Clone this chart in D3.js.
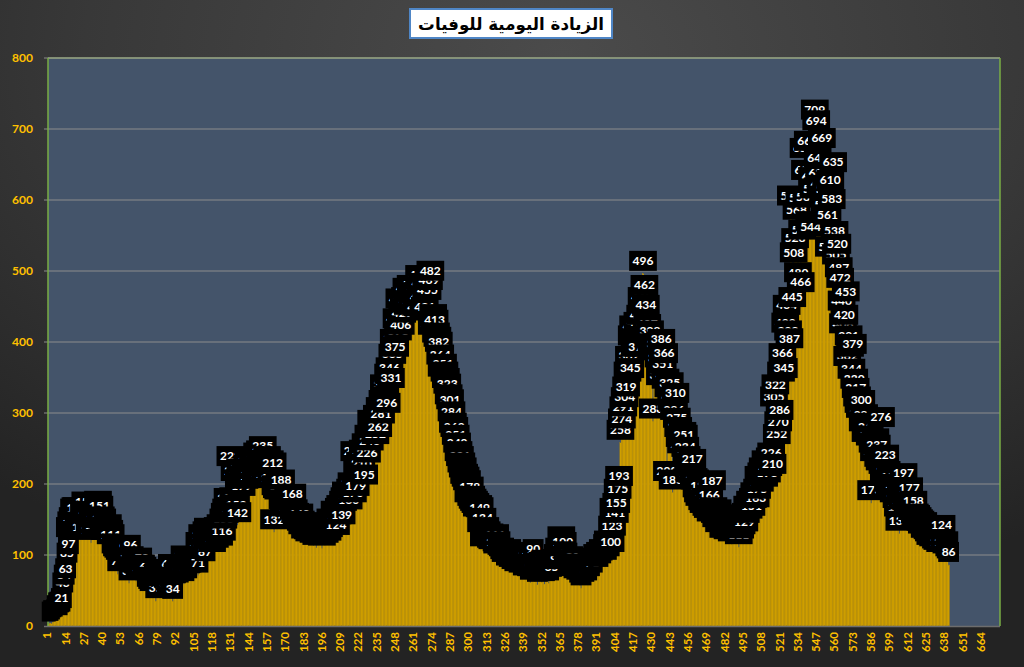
<!DOCTYPE html>
<html><head><meta charset="utf-8">
<script src="https://cdn.jsdelivr.net/npm/d3@7"></script>
<style>html,body{margin:0;padding:0;background:#2a2a2a;overflow:hidden}</style>
</head><body>
<svg id="chart" width="1024" height="667"></svg>
<script>
// ---------------- DATA ----------------
const titleText = "الزيادة اليومية للوفيات";
const yTicks = [0, 100, 200, 300, 400, 500, 600, 700, 800];
const xTickLabels = [1, 14, 27, 40, 53, 66, 79, 92, 105, 118, 131, 144, 157, 170, 183, 196, 209, 222, 235, 248,
  261, 274, 287, 300, 313, 326, 339, 352, 365, 378, 391, 404, 417, 430, 443, 456, 469, 482, 495, 508, 521, 534,
  547, 560, 573, 586, 599, 612, 625, 638, 651, 664];
const categoryCount = 676;   // axis categories 1..676 (data fills the first 640)
const dailyDeaths = [
  2, 4, 3, 5, 8, 9, 11, 15, 16, 21,
  43, 54, 63, 85, 97, 121, 129, 135, 147, 149,
  149, 123, 129, 127, 122, 143, 157, 144, 139, 123,
  117, 141, 138, 124, 134, 158, 151, 136, 133, 121,
  117, 122, 125, 117, 111, 98, 94, 92, 89, 73,
  87, 91, 88, 94, 90, 93, 76, 60, 96, 71,
  80, 71, 63, 74, 64, 74, 78, 68, 68, 65,
  51, 48, 45, 51, 50, 55, 35, 57, 52, 56,
  62, 60, 50, 58, 41, 69, 51, 48, 34, 57,
  56, 63, 57, 64, 81, 70, 59, 72, 63, 75,
  70, 71, 74, 78, 78, 75, 71, 100, 93, 111,
  90, 87, 115, 120, 109, 115, 100, 119, 106, 119,
  121, 109, 125, 116, 133, 141, 147, 162, 147, 221,
  148, 163, 200, 153, 142, 188, 203, 179, 194, 189,
  200, 195, 215, 194, 203, 216, 212, 199, 226, 195,
  229, 198, 235, 212, 196, 221, 208, 215, 190, 212,
  132, 180, 176, 174, 179, 188, 160, 154, 158, 150,
  161, 150, 162, 168, 146, 141, 138, 133, 140, 130,
  125, 127, 119, 126, 118, 115, 121, 116, 113, 117,
  110, 114, 122, 118, 109, 117, 113, 128, 116, 121,
  133, 126, 131, 144, 124, 139, 148, 152, 139, 158,
  163, 171, 166, 160, 175, 184, 170, 228, 179, 206,
  208, 213, 210, 230, 195, 239, 226, 251, 243, 272,
  260, 265, 252, 279, 262, 290, 281, 300, 322, 305,
  296, 337, 346, 331, 365, 386, 375, 415, 398, 443,
  406, 423, 437, 445, 458, 434, 440, 462, 449, 438,
  452, 441, 432, 476, 446, 465, 426, 431, 459, 455,
  469, 482, 406, 421, 413, 395, 389, 382, 364, 347,
  351, 340, 331, 323, 308, 301, 284, 268, 262, 251,
  240, 228, 221, 212, 205, 196, 192, 187, 170, 178,
  165, 161, 158, 155, 150, 152, 149, 128, 134, 108,
  121, 115, 110, 112, 106, 104, 98, 111, 101, 96,
  94, 90, 86, 92, 88, 81, 84, 79, 90, 76,
  82, 73, 80, 86, 71, 78, 74, 67, 81, 70,
  66, 79, 61, 69, 90, 63, 68, 58, 72, 64,
  61, 75, 59, 67, 63, 60, 71, 65, 76, 83,
  92, 81, 98, 94, 108, 100, 87, 79, 85, 76,
  72, 66, 80, 63, 70, 61, 67, 57, 53, 62,
  58, 69, 60, 74, 66, 78, 71, 83, 80, 86,
  79, 90, 84, 88, 97, 93, 89, 102, 94, 100,
  123, 148, 141, 155, 175, 193, 258, 274, 291, 304,
  319, 340, 362, 345, 391, 405, 375, 380, 410, 375,
  420, 445, 496, 462, 434, 407, 391, 398, 380, 288,
  375, 370, 380, 360, 335, 386, 351, 366, 330, 200,
  318, 325, 300, 188, 286, 310, 275, 262, 248, 239,
  255, 251, 234, 221, 212, 198, 207, 217, 190, 188,
  177, 170, 165, 180, 159, 155, 162, 151, 148, 166,
  143, 187, 149, 141, 135, 146, 128, 139, 133, 120,
  131, 126, 118, 124, 129, 115, 121, 126, 117, 123,
  111, 119, 125, 134, 129, 141, 151, 147, 158, 151,
  162, 170, 163, 175, 193, 185, 198, 205, 192, 215,
  198, 207, 219, 226, 210, 305, 322, 252, 270, 286,
  340, 366, 345, 409, 434, 398, 387, 588, 445, 508,
  528, 568, 480, 585, 466, 540, 655, 624, 586, 665,
  552, 544, 614, 598, 709, 694, 642, 620, 603, 669,
  588, 575, 597, 561, 516, 610, 583, 635, 538, 505,
  520, 487, 472, 440, 408, 420, 453, 362, 391, 375,
  344, 379, 330, 317, 305, 296, 289, 300, 270, 280,
  255, 268, 262, 250, 173, 240, 228, 246, 237, 220,
  215, 276, 210, 195, 223, 200, 185, 178, 192, 182,
  170, 174, 162, 150, 130, 166, 160, 197, 171, 165,
  155, 177, 150, 145, 158, 140, 138, 135, 132, 130,
  126, 128, 120, 124, 118, 115, 110, 117, 108, 112,
  105, 103, 109, 100, 124, 98, 101, 94, 91, 86
];

// ---------------- CHART ----------------
const W = 1024, H = 667;
const plot = { left: 48, right: 1000, top: 58, bottom: 626 };
const categories = d3.range(1, categoryCount + 1);
const series = dailyDeaths.map((v, i) => ({ day: categories[i], value: v }));

const x = d3.scaleBand().domain(categories).range([plot.left, plot.right]).padding(0);
const y = d3.scaleLinear().domain([0, 800]).range([plot.bottom, plot.top]);

const svg = d3.select("#chart");
const defs = svg.append("defs");
const bg = defs.append("radialGradient").attr("id", "bgGrad")
  .attr("cx", "55%").attr("cy", "8%").attr("r", "85%");
bg.append("stop").attr("offset", "0%").attr("stop-color", "#4b4b4b");
bg.append("stop").attr("offset", "55%").attr("stop-color", "#383838");
bg.append("stop").attr("offset", "100%").attr("stop-color", "#232323");

svg.append("rect").attr("width", W).attr("height", H).attr("fill", "url(#bgGrad)");

// plot area
svg.append("rect")
  .attr("x", plot.left).attr("y", plot.top)
  .attr("width", plot.right - plot.left).attr("height", plot.bottom - plot.top)
  .attr("fill", "#44546a");

// gridlines
svg.append("g").selectAll("line").data(yTicks.filter(t => t > 0)).join("line")
  .attr("x1", plot.left - 4).attr("x2", plot.right)
  .attr("y1", d => y(d)).attr("y2", d => y(d))
  .attr("stroke", "#8c8c8c").attr("stroke-width", 1);

// bars
svg.append("g").selectAll("rect").data(series).join("rect")
  .attr("x", d => x(d.day))
  .attr("y", d => y(d.value))
  .attr("width", x.bandwidth() + 0.15)
  .attr("height", d => y(0) - y(d.value))
  .attr("fill", "#cf9f00")
  .attr("stroke", "#b88c00").attr("stroke-width", 0.25);

// x axis line
svg.append("line").attr("x1", plot.left - 4).attr("x2", plot.right)
  .attr("y1", y(0) + 0.5).attr("y2", y(0) + 0.5)
  .attr("stroke", "#6d6d6d").attr("stroke-width", 1.5);

// plot border
svg.append("line").attr("x1", plot.left).attr("x2", plot.right).attr("y1", plot.top).attr("y2", plot.top)
  .attr("stroke", "#8f9f7c").attr("stroke-width", 1.5);
svg.append("line").attr("x1", plot.left).attr("x2", plot.left).attr("y1", plot.top).attr("y2", plot.bottom)
  .attr("stroke", "#7aae45").attr("stroke-width", 1.5);
svg.append("line").attr("x1", plot.right).attr("x2", plot.right).attr("y1", plot.top).attr("y2", plot.bottom)
  .attr("stroke", "#7aae45").attr("stroke-width", 1.5);

// data labels (drawn in series order; later ones on top)
const digitW = 6.9;
const lab = svg.append("g").selectAll("g").data(series).join("g")
  .attr("transform", d => `translate(${x(d.day) + x.bandwidth() / 2},${y(d.value) - 13})`);
lab.append("rect")
  .attr("x", d => -(String(d.value).length * digitW + 7) / 2)
  .attr("y", -10)
  .attr("width", d => String(d.value).length * digitW + 7)
  .attr("height", 20)
  .attr("fill", "#000");
lab.append("text")
  .attr("text-anchor", "middle").attr("dy", "0.36em")
  .attr("font-family", "Lato, 'Open Sans', sans-serif").attr("font-weight", "bold")
  .attr("font-size", 12).attr("fill", "#fff")
  .text(d => d.value);

// y axis labels
svg.append("g").selectAll("text").data(yTicks).join("text")
  .attr("x", 33).attr("y", d => y(d)).attr("dy", "0.35em")
  .attr("text-anchor", "end")
  .attr("font-family", "Lato, sans-serif").attr("font-weight", "bold")
  .attr("font-size", 12).attr("fill", "#ffc000")
  .text(d => d);

// x axis labels
svg.append("g").selectAll("text").data(xTickLabels).join("text")
  .attr("transform", d => `translate(${x(d) + x.bandwidth() / 2 - 1.5},${y(0) + 6}) rotate(-90)`)
  .attr("dy", "0.35em")
  .attr("text-anchor", "end")
  .attr("font-family", "Lato, sans-serif").attr("font-weight", "bold")
  .attr("font-size", 11.5).attr("fill", "#ffc000")
  .text(d => d);

// title
const tg = svg.append("g");
tg.append("rect").attr("x", 410).attr("y", 9).attr("width", 202).attr("height", 29)
  .attr("fill", "#fff").attr("stroke", "#4f86c6").attr("stroke-width", 2);
const tt = tg.append("text").attr("x", 511).attr("y", 24).attr("dy", "0.35em")
  .attr("text-anchor", "middle")
  .attr("font-family", "'DejaVu Sans', 'Noto Sans', sans-serif").attr("font-weight", "bold")
  .attr("font-size", 19).attr("fill", "#000")
  .attr("direction", "rtl")
  .text(titleText);
const tw = tt.node().getComputedTextLength();
if (tw > 186) tt.attr("font-size", 19 * 186 / tw);
</script>
</body></html>
